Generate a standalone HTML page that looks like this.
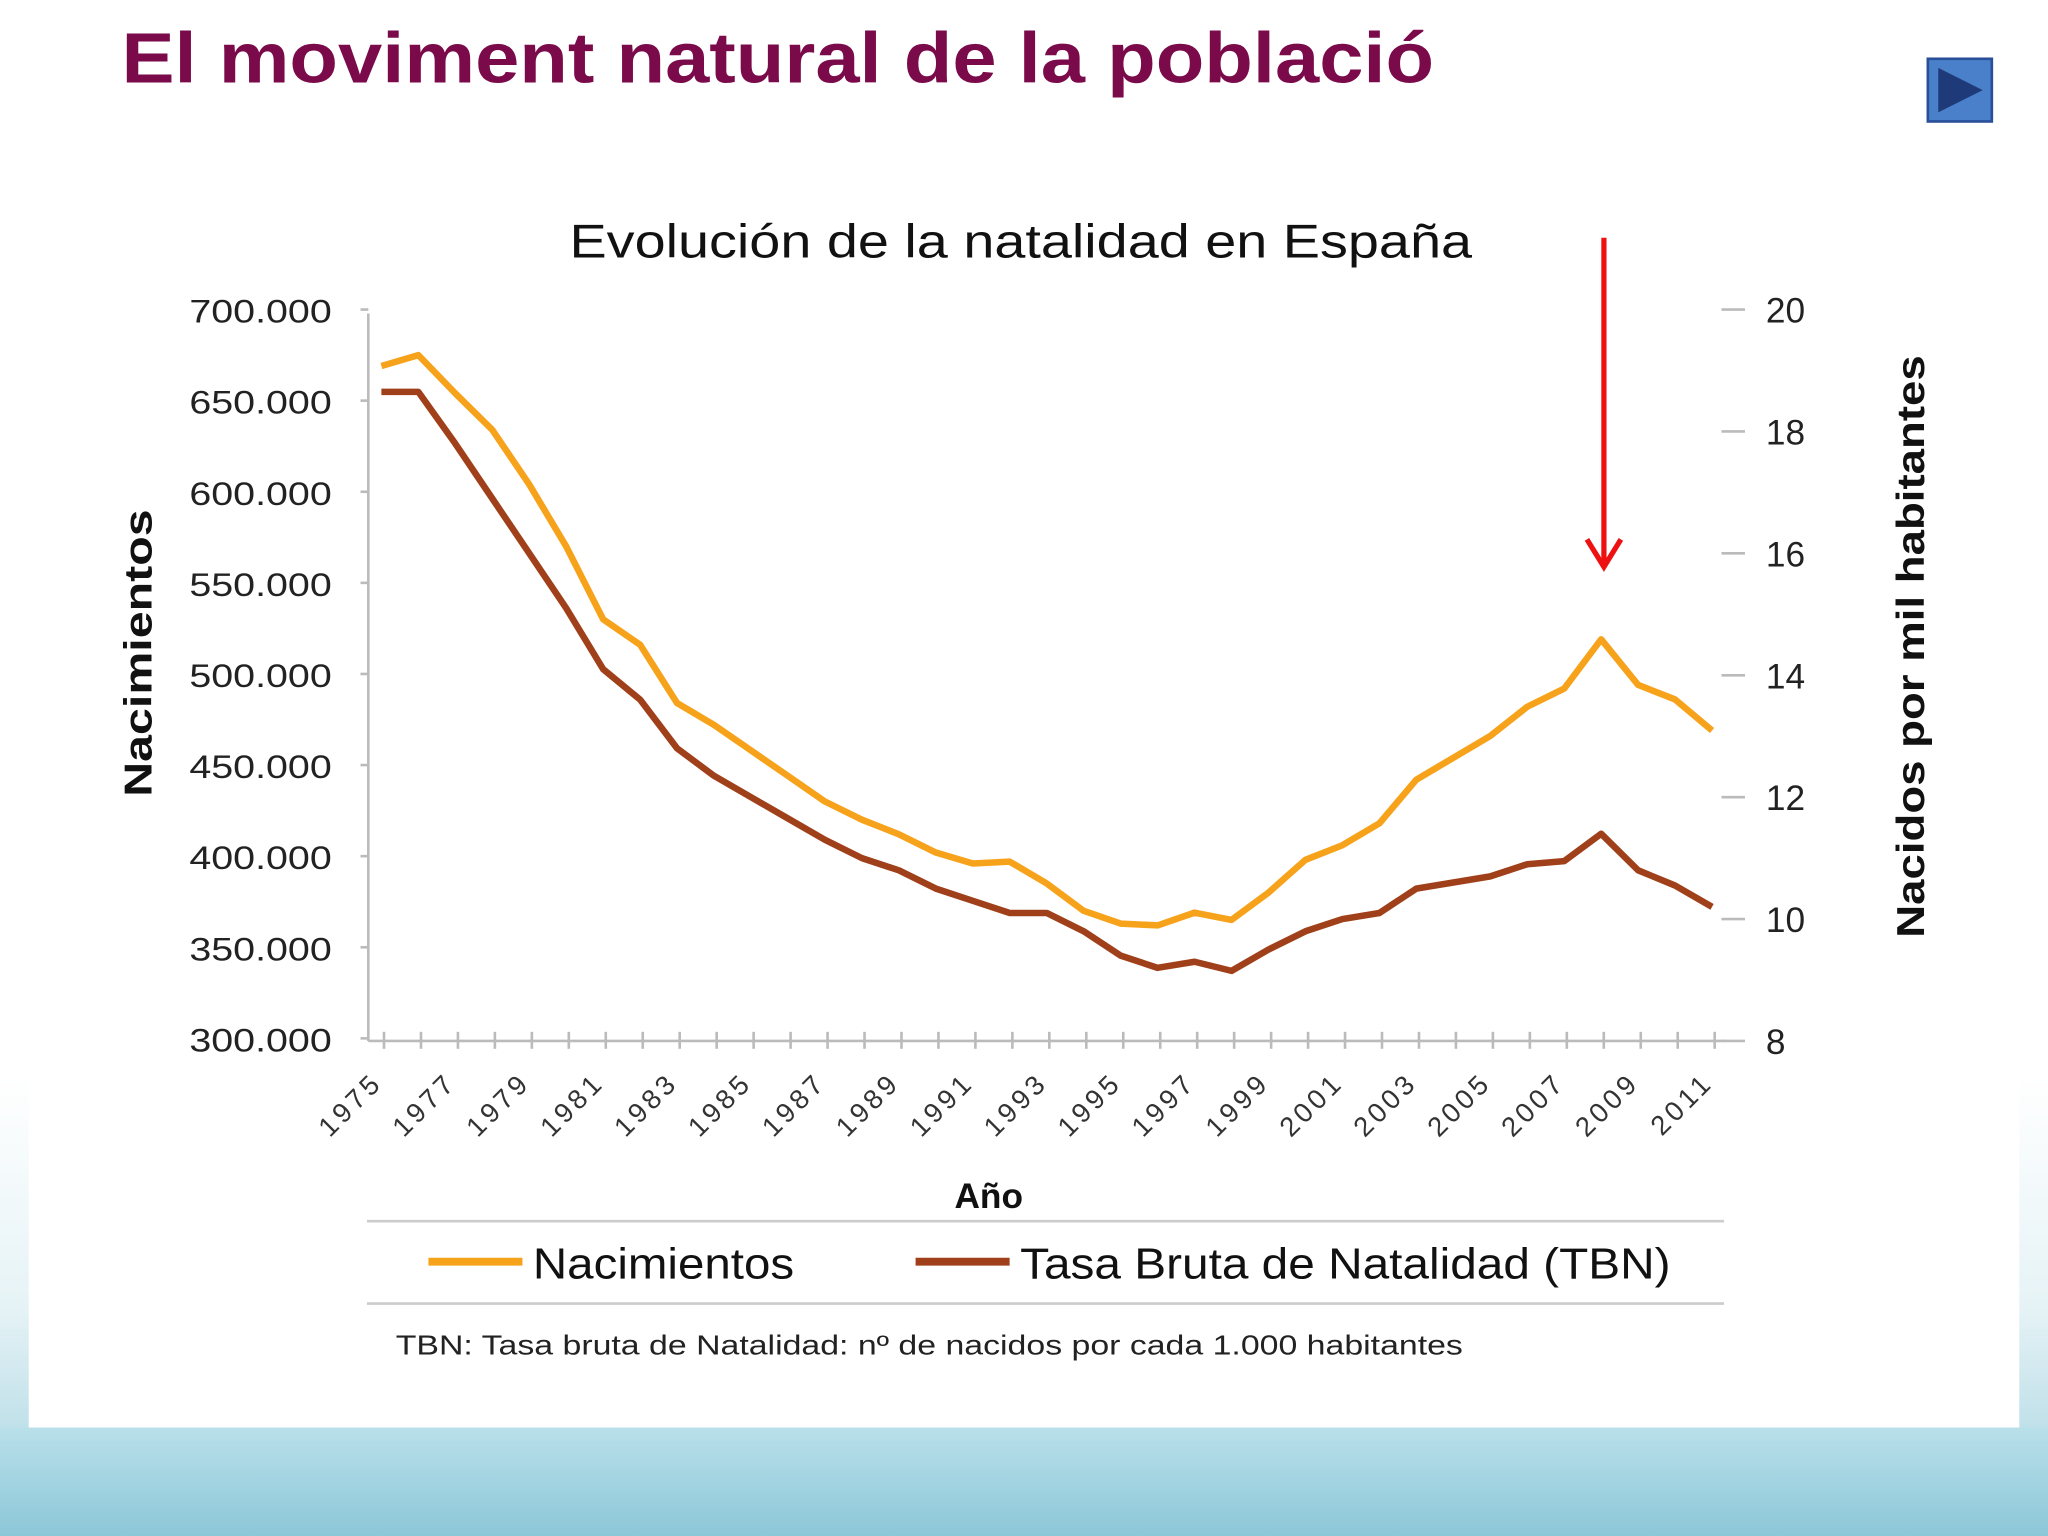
<!DOCTYPE html>
<html><head><meta charset="utf-8"><style>
html,body{margin:0;padding:0;background:#fff;}
svg{display:block;}
text{font-family:"Liberation Sans",sans-serif;}
</style></head><body>
<svg width="2048" height="1536" viewBox="0 0 1568 1176" xmlns="http://www.w3.org/2000/svg">
<defs>
<linearGradient id="bg" x1="0" y1="0" x2="0" y2="1">
<stop offset="0" stop-color="#ffffff"/><stop offset="0.7" stop-color="#ffffff"/><stop offset="0.85" stop-color="#e6f3f6"/><stop offset="1" stop-color="#9fd0de"/>
</linearGradient>
<linearGradient id="bot" x1="0" y1="0" x2="0" y2="1"><stop offset="0" stop-color="#b9e0ea"/><stop offset="1" stop-color="#8cc7d8"/></linearGradient>
</defs>
<rect x="0" y="0" width="1568" height="1176" fill="url(#bg)"/>
<rect x="22" y="0" width="1524" height="1093" fill="#ffffff"/>
<rect x="0" y="1093" width="1568" height="83" fill="url(#bot)"/>
<text x="93" y="63" font-size="55" font-weight="bold" fill="#7a0a4a" textLength="1005" lengthAdjust="spacingAndGlyphs">El moviment natural de la població</text>
<g>
<rect x="1476" y="45" width="49" height="48" fill="#4a7fc9" stroke="#2a4f99" stroke-width="2"/>
<polygon points="1484,52 1518,69 1484,86" fill="#1f3a78"/>
</g>
<text x="436" y="197" font-size="36" fill="#111" textLength="691" lengthAdjust="spacingAndGlyphs">Evolución de la natalidad en España</text>
<line x1="1228" y1="182" x2="1228" y2="430" stroke="#ee1111" stroke-width="4"/>
<polyline points="1215,413 1228,434 1241,413" fill="none" stroke="#ee1111" stroke-width="4"/>
<g id="axes"></g>
<g id="series"></g>
<text transform="translate(116,390) rotate(-90)" font-size="30" font-weight="bold" text-anchor="end" fill="#111" textLength="220" lengthAdjust="spacingAndGlyphs">Nacimientos</text>
<text transform="translate(1473,718) rotate(-90)" font-size="30" font-weight="bold" fill="#111" textLength="446" lengthAdjust="spacingAndGlyphs">Nacidos por mil habitantes</text>
<text x="757" y="925" font-size="27" font-weight="bold" text-anchor="middle" fill="#111">Año</text>
<line x1="281" y1="935" x2="1320" y2="935" stroke="#ccc" stroke-width="2"/>
<line x1="281" y1="998" x2="1320" y2="998" stroke="#ccc" stroke-width="2"/>
<g>
<line x1="328" y1="966" x2="400" y2="966" stroke="#f7a21b" stroke-width="6"/>
<text x="408" y="979" font-size="33" fill="#111" textLength="200" lengthAdjust="spacingAndGlyphs">Nacimientos</text></g>
<g>
<line x1="701" y1="966" x2="773" y2="966" stroke="#a0401a" stroke-width="6"/>
<text x="781" y="979" font-size="33" fill="#111" textLength="498" lengthAdjust="spacingAndGlyphs">Tasa Bruta de Natalidad (TBN)</text></g>
<text x="303" y="1037" font-size="21" fill="#222" textLength="817" lengthAdjust="spacingAndGlyphs">TBN: Tasa bruta de Natalidad: nº de nacidos por cada 1.000 habitantes</text>
</svg>
<script>
const years=[1975,1976,1977,1978,1979,1980,1981,1982,1983,1984,1985,1986,1987,1988,1989,1990,1991,1992,1993,1994,1995,1996,1997,1998,1999,2000,2001,2002,2003,2004,2005,2006,2007,2008,2009,2010,2011];
const births=[669,675,654,634,604,570,530,516,484,472,458,444,430,420,412,402,396,397,385,370,363,362,369,365,380,398,406,418,442,454,466,482,492,519,494,486,469];
const tbn=[18.65,18.65,17.8,16.9,16.0,15.1,14.1,13.6,12.8,12.35,12.0,11.65,11.3,11.0,10.8,10.5,10.3,10.1,10.1,9.8,9.4,9.2,9.3,9.15,9.5,9.8,10.0,10.1,10.5,10.6,10.7,10.9,10.95,11.4,10.8,10.55,10.2];
const leftTicks=[300,350,400,450,500,550,600,650,700];
const rightTicks=[8,10,12,14,16,18,20];
const NS='http://www.w3.org/2000/svg';
const xS=y=>292+(y-1975)*28.3;
const yL=v=>795-(v-300)*(558/400);
const yR=v=>797-(v-8)*(560/12);
function mk(t,a,p){const e=document.createElementNS(NS,t);for(const k in a)e.setAttribute(k,a[k]);p.appendChild(e);return e;}
const ax=document.getElementById('axes');
mk('line',{x1:282,y1:240,x2:282,y2:797,stroke:'#bbb','stroke-width':2},ax);
mk('line',{x1:282,y1:797,x2:1320,y2:797,stroke:'#bbb','stroke-width':2},ax);
leftTicks.forEach(v=>{const y=yL(v);
 mk('line',{x1:276,y1:y,x2:282,y2:y,stroke:'#bbb','stroke-width':2},ax);
 const t=mk('text',{x:145,y:y+10,'font-size':25,fill:'#222',textLength:109,lengthAdjust:'spacingAndGlyphs'},ax);
 
 
 t.textContent=v+'.000';});
rightTicks.forEach(v=>{const y=yR(v);
 mk('line',{x1:1318,y1:y,x2:1336,y2:y,stroke:'#bbb','stroke-width':2},ax);
 const t=mk('text',{x:1352,y:y+10,'font-size':27,fill:'#222'},ax);
 
 
 t.textContent=v;});
years.forEach(yr=>{const x=xS(yr)+2;
 mk('line',{x1:x,y1:790,x2:x,y2:803,stroke:'#bbb','stroke-width':2},ax);
 if((yr-1975)%2===0){const t=mk('text',{transform:`translate(${x},${830}) rotate(-45)`,'font-size':21,'text-anchor':'end','letter-spacing':3,fill:'#333'},ax);
 
 
 t.textContent=yr;}});
const sg=document.getElementById('series');
const p1=mk('polyline',{points:years.map((y,i)=>xS(y)+','+yL(births[i])).join(' '),fill:'none',stroke:'#f7a21b','stroke-width':5,'stroke-linejoin':'round'},sg);


const p2=mk('polyline',{points:years.map((y,i)=>xS(y)+','+yR(tbn[i])).join(' '),fill:'none',stroke:'#a0401a','stroke-width':5,'stroke-linejoin':'round'},sg);


</script>
</body></html>
